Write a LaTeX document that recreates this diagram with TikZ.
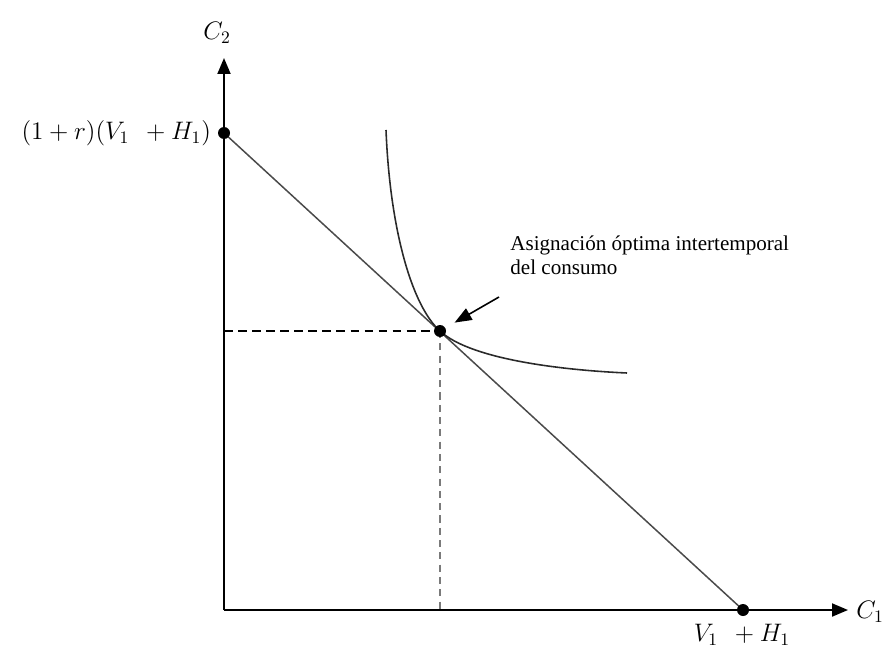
\documentclass[tikz,border=0pt]{standalone}
\usepackage{fontspec}
\setmainfont{Liberation Serif}
\usetikzlibrary{arrows.meta}
\definecolor{axisInk}{HTML}{000000}
\definecolor{budgetGray}{HTML}{4A4A4A}
\definecolor{curveInk}{HTML}{2A2A2A}
\definecolor{guideGray}{HTML}{7A7A7A}
\tikzset{
  axis line/.style={
    -{Triangle[length=3.2mm,width=2.6mm]},
    draw=axisInk,
    line width=1.1pt
  },
  budget line/.style={
    draw=budgetGray,
    line width=0.85pt
  },
  indifference curve/.style={
    draw=curveInk,
    line width=0.9pt
  },
  guide line/.style={
    dash pattern=on 5pt off 3pt,
    draw=axisInk,
    line width=0.8pt
  },
  point dot/.style={
    circle,
    fill=axisInk,
    inner sep=0pt,
    minimum size=2.4mm
  },
  axis label/.style={
    font=\fontsize{14}{16}\selectfont,
    inner sep=1pt
  },
  note label/.style={
    font=\fontsize{12}{14}\selectfont,
    align=left,
    inner sep=0pt
  },
  pointer edge/.style={
    -{Triangle[length=3.4mm,width=2.6mm]},
    draw=axisInk,
    line width=0.9pt
  }
}

\begin{document}
\begin{tikzpicture}[x=0.02cm,y=-0.02cm]
  \useasboundingbox (0,0) rectangle (884,655);

  % axes and key points
  \coordinate (origin) at (224,610);
  \coordinate (c2-end) at (224,58);
  \coordinate (c1-end) at (848,610);
  \coordinate (intercept-y) at (224,133);
  \coordinate (intercept-x) at (743,610);
  \coordinate (optimum) at (440,331);
  \coordinate (optimum-c2) at (224,331);
  \coordinate (optimum-c1) at (440,610);
  \coordinate (curve-top) at (386,130);
  \coordinate (curve-end) at (627,373);
  \coordinate (pointer-tail) at (499,297);

  \draw[guide line] (optimum-c2) -- (optimum);
  \draw[guide line,draw=guideGray,dash pattern=on 4pt off 3pt] (optimum) -- (optimum-c1);
  \draw[budget line] (intercept-y) -- (intercept-x);
  \draw[indifference curve] (curve-top) .. controls (390,230) and (412,306) .. (optimum)
    .. controls (470,359) and (560,370) .. (curve-end);
  \draw[axis line] (origin) -- (c2-end);
  \draw[axis line] (origin) -- (c1-end);

  \node[point dot] (intercept-y-dot) at (intercept-y) {};
  \node[point dot] (intercept-x-dot) at (intercept-x) {};
  \node[point dot] (optimum-dot) at (optimum) {};

  \node[axis label] (c2-label) at (217,33) {$C_2$};
  \node[axis label] (c1-label) at (870,612) {$C_1$};
  \node[axis label,anchor=east] (intercept-y-label) at (213,133) {$(1+r)\Bigl(V_1\;\,+H_1\Bigr)$};
  \node[axis label] (intercept-x-label) at (742,635) {$V_1\;\,+H_1$};

  \node[note label,anchor=north west] (note) at (510,235) {Asignación óptima intertemporal\\del consumo};
  \draw[pointer edge,shorten >=2.1mm] (pointer-tail) -- (optimum-dot);
\end{tikzpicture}
\end{document}
